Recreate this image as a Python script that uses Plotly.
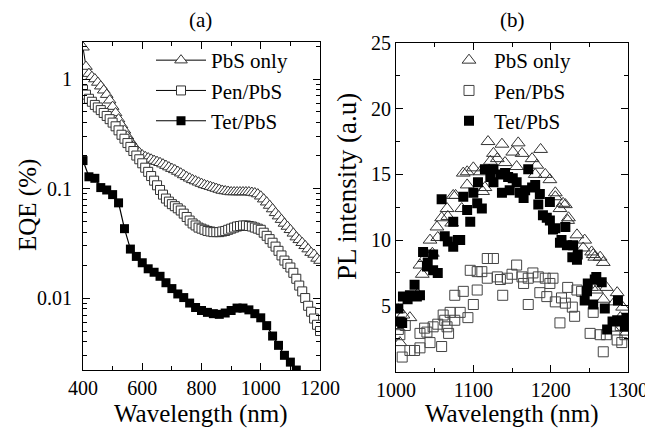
import plotly.graph_objects as go

# ---- (a) EQE spectra ----
wl_10nm = list(range(400, 1201, 10))
eqe_pbs_only = [
    1.95, 1.3, 1.12, 1.05, 1.0, 0.93, 0.86, 0.79, 0.72, 0.64,
    0.56, 0.49, 0.43, 0.38, 0.34, 0.30, 0.27, 0.245, 0.228, 0.213,
    0.202, 0.195, 0.19, 0.185, 0.18, 0.176, 0.172, 0.167, 0.162, 0.157,
    0.152, 0.148, 0.143, 0.138, 0.133, 0.128, 0.124, 0.12, 0.117, 0.114,
    0.111, 0.108, 0.106, 0.104, 0.102, 0.1, 0.098, 0.096, 0.095, 0.094,
    0.093, 0.093, 0.093, 0.093, 0.093, 0.093, 0.093, 0.092, 0.091, 0.089,
    0.085, 0.08, 0.075, 0.07, 0.065, 0.06, 0.056, 0.052, 0.048, 0.045,
    0.042, 0.039, 0.036, 0.034, 0.032, 0.03, 0.028, 0.026, 0.025, 0.023,
    0.022,
]
eqe_pen_pbs = [
    0.80, 0.72, 0.66, 0.62, 0.58, 0.55, 0.52, 0.49, 0.46, 0.43,
    0.40, 0.37, 0.34, 0.31, 0.285, 0.26, 0.24, 0.22, 0.20, 0.185,
    0.17, 0.155, 0.142, 0.13, 0.118, 0.107, 0.097, 0.088, 0.081, 0.076,
    0.072, 0.069, 0.066, 0.063, 0.059, 0.055, 0.051, 0.048, 0.046, 0.044,
    0.043, 0.042, 0.041, 0.0405, 0.040, 0.040, 0.040, 0.0405, 0.041, 0.042,
    0.043, 0.044, 0.045, 0.0455, 0.046, 0.046, 0.0455, 0.045, 0.044, 0.043,
    0.042, 0.0395, 0.037, 0.0345, 0.032, 0.0295, 0.027, 0.0245, 0.022, 0.0205,
    0.019, 0.017, 0.015, 0.013, 0.0115, 0.010, 0.0085, 0.0075, 0.0065, 0.0057,
    0.005,
]
wl_20nm = list(range(400, 1121, 20))
eqe_tet_pbs = [
    0.18, 0.128, 0.124, 0.102, 0.097, 0.088, 0.074, 0.043, 0.028, 0.024,
    0.021, 0.0185, 0.0172, 0.0158, 0.0138, 0.0122, 0.0109, 0.0101, 0.009, 0.0082,
    0.0077, 0.0074, 0.0072, 0.0071, 0.0073, 0.0077, 0.0081, 0.0081, 0.0078, 0.0072,
    0.0066, 0.0056, 0.0045, 0.0037, 0.003, 0.0026, 0.0022,
]

# ---- (b) PL spectra ----
pl_pbs_only_x = [
    1001, 1003, 1005, 1009, 1018, 1028, 1031, 1034, 1037, 1044,
    1047, 1053, 1054, 1059, 1066, 1067, 1072, 1074, 1077, 1085,
    1087, 1092, 1092, 1100, 1109, 1112, 1115, 1119, 1122, 1126,
    1131, 1137, 1141, 1151, 1156, 1158, 1163, 1176, 1180, 1182,
    1187, 1193, 1199, 1206, 1206, 1212, 1216, 1219, 1222, 1223,
    1234, 1242, 1244, 1253, 1253, 1255, 1257, 1259, 1264, 1268,
    1268, 1272, 1280, 1283, 1286, 1290, 1293, 1296, 1298, 1298,
]
pl_pbs_only_y = [
    3.5, 4.7, 2.2, 4.3, 4.1, 5.9, 8.1, 7.4, 8.6, 10.0,
    9.0, 11.0, 10.2, 11.7, 12.4, 11.8, 11.3, 13.4, 13.4, 12.4,
    15.1, 14.2, 15.2, 15.5, 15.2, 13.7, 14.0, 17.5, 16.0, 16.6,
    16.2, 17.3, 15.9, 16.7, 15.6, 17.4, 16.6, 16.2, 15.0, 15.7,
    16.9, 15.0, 14.6, 13.6, 13.3, 12.4, 12.8, 12.7, 11.5, 11.7,
    10.4, 9.4, 10.0, 9.1, 6.4, 8.9, 8.7, 6.2, 8.7, 8.3,
    5.5, 6.4, 3.3, 5.3, 6.0, 4.1, 4.9, 3.9, 3.0, 3.7,
]
pl_pen_pbs_x = [
    1003, 1005, 1008, 1012, 1018, 1024, 1031, 1031, 1037, 1040,
    1044, 1048, 1054, 1059, 1061, 1063, 1066, 1068, 1070, 1076,
    1076, 1083, 1087, 1093, 1096, 1100, 1105, 1105, 1111, 1118,
    1118, 1126, 1131, 1135, 1138, 1144, 1150, 1156, 1163, 1165,
    1171, 1171, 1177, 1184, 1186, 1193, 1195, 1199, 1203, 1206,
    1212, 1214, 1219, 1222, 1228, 1231, 1234, 1240, 1251, 1255,
    1264, 1268, 1272, 1286, 1290, 1292, 1296,
]
pl_pen_pbs_y = [
    3.2, 2.8, 1.1, 3.5, 1.6, 1.6, 1.8, 2.9, 3.3, 3.0,
    2.2, 3.4, 3.6, 1.9, 4.3, 3.9, 3.4, 2.9, 4.5, 3.9,
    5.8, 4.5, 6.1, 4.1, 7.7, 5.1, 6.2, 7.6, 7.6, 7.1,
    8.6, 8.6, 7.2, 7.0, 5.8, 7.1, 7.4, 8.1, 7.2, 6.7,
    7.1, 5.1, 7.5, 7.2, 6.0, 7.1, 5.7, 6.7, 7.1, 5.3,
    3.7, 5.6, 5.2, 6.4, 4.9, 4.2, 6.2, 6.1, 2.9, 4.5,
    2.8, 1.5, 2.8, 2.4, 3.5, 2.2, 2.8,
]
pl_tet_pbs_x = [
    1003, 1005, 1008, 1009, 1015, 1018, 1024, 1027, 1031, 1035,
    1040, 1041, 1048, 1048, 1054, 1059, 1063, 1067, 1074, 1074,
    1080, 1083, 1087, 1092, 1096, 1100, 1105, 1106, 1111, 1115,
    1122, 1126, 1126, 1135, 1137, 1141, 1145, 1147, 1151, 1156,
    1160, 1165, 1167, 1171, 1176, 1180, 1184, 1186, 1190, 1195,
    1199, 1199, 1203, 1206, 1212, 1214, 1219, 1221, 1228, 1229,
    1234, 1235, 1244, 1247, 1248, 1255, 1257, 1259, 1266, 1270,
    1273, 1280, 1286, 1287, 1292, 1296, 1298,
]
pl_tet_pbs_y = [
    4.8, 3.8, 3.7, 5.7, 5.5, 5.8, 6.6, 5.7, 5.8, 9.1,
    8.0, 8.3, 8.9, 7.7, 7.5, 13.1, 10.3, 9.9, 9.5, 11.4,
    10.0, 10.0, 13.3, 12.3, 11.4, 13.6, 12.8, 14.4, 12.4, 15.4,
    14.8, 15.4, 14.4, 15.0, 13.6, 15.1, 14.8, 13.8, 14.7, 14.4,
    13.6, 13.2, 13.8, 15.4, 14.0, 14.2, 12.7, 13.5, 11.9, 11.7,
    12.9, 11.5, 10.8, 10.9, 9.8, 10.0, 11.0, 9.6, 8.7, 9.6,
    8.5, 8.9, 5.4, 6.1, 6.7, 5.1, 7.0, 7.2, 6.8, 4.8,
    3.2, 3.8, 3.9, 5.4, 3.8, 3.4, 4.1,
]

FONT = "Liberation Serif"
W, H = 653, 430
OFF = 8  # the page body margin shifts the figure by 8px


def fx(px):
    return (px - OFF) / W


def fy(py):
    return 1 - (py - OFF) / H


fig = go.Figure()

# panel (a): white-filled markers so the overlapping stacks look like the original
fig.add_trace(go.Scatter(
    x=wl_10nm, y=eqe_pbs_only, name="PbS only", mode="lines+markers",
    line=dict(color="black", width=1),
    marker=dict(symbol="triangle-up", size=11, color="white", line=dict(color="#333", width=1)),
    xaxis="x", yaxis="y", legend="legend",
))
fig.add_trace(go.Scatter(
    x=wl_10nm, y=eqe_pen_pbs, name="Pen/PbS", mode="lines+markers",
    line=dict(color="black", width=1),
    marker=dict(symbol="square", size=9, color="white", line=dict(color="#333", width=1)),
    xaxis="x", yaxis="y", legend="legend",
))
fig.add_trace(go.Scatter(
    x=wl_20nm, y=eqe_tet_pbs, name="Tet/PbS", mode="lines+markers",
    line=dict(color="black", width=1.2),
    marker=dict(symbol="square", size=9, color="black"),
    xaxis="x", yaxis="y", legend="legend",
))

# panel (b)
fig.add_trace(go.Scatter(
    x=pl_pbs_only_x, y=pl_pbs_only_y, name="PbS only", mode="markers",
    marker=dict(symbol="triangle-up-open", size=12, color="#333", line=dict(width=1)),
    xaxis="x2", yaxis="y2", legend="legend2",
))
fig.add_trace(go.Scatter(
    x=pl_pen_pbs_x, y=pl_pen_pbs_y, name="Pen/PbS", mode="markers",
    marker=dict(symbol="square-open", size=10, color="#444", line=dict(width=1)),
    xaxis="x2", yaxis="y2", legend="legend2",
))
fig.add_trace(go.Scatter(
    x=pl_tet_pbs_x, y=pl_tet_pbs_y, name="Tet/PbS", mode="markers",
    marker=dict(symbol="square", size=10, color="black"),
    xaxis="x2", yaxis="y2", legend="legend2",
))

axis_common = dict(
    showline=True, linecolor="black", linewidth=1, mirror="allticks",
    ticks="inside", ticklen=7, tickcolor="black", showgrid=False, zeroline=False,
    tickfont=dict(family=FONT, size=20, color="black"), automargin=False,
)

fig.update_layout(
    width=W, height=H,
    paper_bgcolor="white", plot_bgcolor="white",
    margin=dict(l=0, r=0, t=0, b=0),
    font=dict(family=FONT, color="black"),
    xaxis=dict(
        domain=[fx(83), fx(320)], range=[400, 1200],
        tickvals=[400, 600, 800, 1000, 1200],
        minor=dict(ticks="inside", ticklen=4, dtick=100, tickcolor="black"),
        **axis_common,
    ),
    yaxis=dict(
        domain=[fy(370), fy(42)], type="log", range=[-2.657, 0.338],
        tickvals=[0.01, 0.1, 1], ticktext=["0.01", "0.1", "1"],
        minor=dict(ticks="inside", ticklen=4, dtick="D1", tickcolor="black"),
        ticklabelstandoff=6,
        **axis_common,
    ),
    xaxis2=dict(
        domain=[fx(396), fx(628)], range=[1000, 1300],
        tickvals=[1000, 1100, 1200, 1300],
        minor=dict(ticks="inside", ticklen=4, dtick=50, tickcolor="black"),
        anchor="y2",
        **axis_common,
    ),
    yaxis2=dict(
        domain=[fy(371.5), fy(43)], range=[0, 25],
        tickvals=[5, 10, 15, 20, 25],
        minor=dict(ticks="inside", ticklen=4, dtick=2.5, tickcolor="black"),
        anchor="x2",
        **axis_common,
    ),
    legend=dict(
        x=fx(151), y=fy(40), xanchor="left", yanchor="top",
        bgcolor="rgba(0,0,0,0)", font=dict(family=FONT, size=21),
        tracegroupgap=0, itemwidth=50,
    ),
    legend2=dict(
        x=fx(444), y=fy(40), xanchor="left", yanchor="top",
        bgcolor="rgba(0,0,0,0)", font=dict(family=FONT, size=21),
        tracegroupgap=0, itemwidth=40,
    ),
    annotations=[
        dict(text="(a)", x=fx(201), y=fy(20), xref="paper", yref="paper",
             xanchor="center", yanchor="middle", showarrow=False,
             font=dict(family=FONT, size=21)),
        dict(text="(b)", x=fx(512), y=fy(20), xref="paper", yref="paper",
             xanchor="center", yanchor="middle", showarrow=False,
             font=dict(family=FONT, size=21)),
        # axis titles
        dict(text="Wavelength (nm)", x=fx(201), y=fy(414), xref="paper", yref="paper",
             xanchor="center", yanchor="middle", showarrow=False,
             font=dict(family=FONT, size=25)),
        dict(text="Wavelength (nm)", x=fx(512), y=fy(414), xref="paper", yref="paper",
             xanchor="center", yanchor="middle", showarrow=False,
             font=dict(family=FONT, size=25)),
        dict(text="EQE (%)", x=fx(28), y=fy(205), xref="paper", yref="paper",
             xanchor="center", yanchor="middle", showarrow=False, textangle=-90,
             font=dict(family=FONT, size=25)),
        dict(text="PL intensity (a.u)", x=fx(347), y=fy(187), xref="paper", yref="paper",
             xanchor="center", yanchor="middle", showarrow=False, textangle=-90,
             font=dict(family=FONT, size=27)),
    ],
)

fig.write_html("out.html")
